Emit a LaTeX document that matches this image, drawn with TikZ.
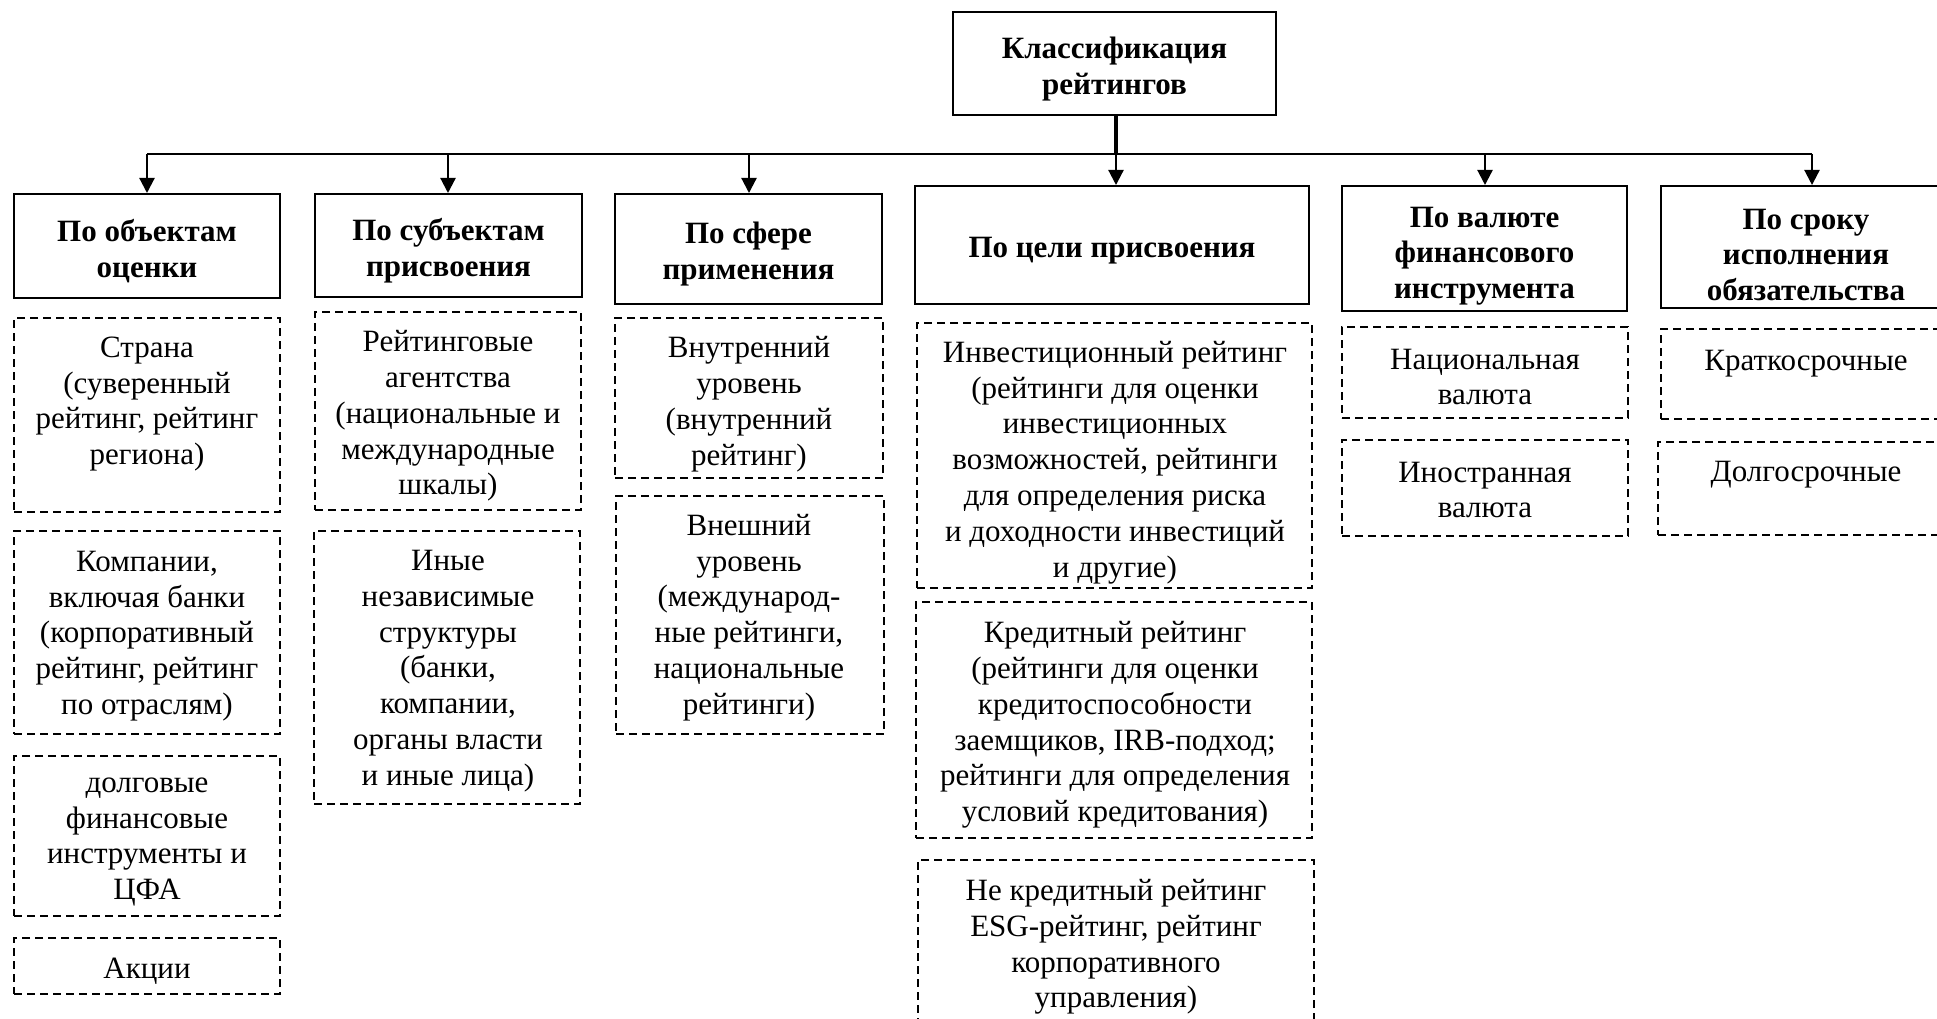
\documentclass[tikz,border=0pt]{standalone}
\usepackage{fontspec}
\setmainfont{Liberation Serif}
\usetikzlibrary{arrows.meta}
\tikzset{
  txt/.style={inner sep=0pt, align=center, yshift=-3pt, font=\fontsize{31}{35.8}\selectfont},
  htxt/.style={inner sep=0pt, align=center, yshift=-4pt, font=\fontsize{31}{35.8}\selectfont\bfseries},
  sbox/.style={draw=black, line width=2pt, inner sep=0pt, rectangle},
  dbox/.style={draw=black, line width=1.8pt, dash pattern=on 8pt off 5pt, inner sep=0pt, rectangle},
  arr/.style={line width=2.2pt, -{Triangle[length=15pt,width=15pt]}},
  bus/.style={line width=2.6pt},
  trunk/.style={line width=4pt}
}
\begin{document}
\begin{tikzpicture}[x=1pt,y=-1pt]
\useasboundingbox (0,0) rectangle (1937,1019);
\clip (0,0) rectangle (1937,1019);
\fill[white] (0,0) rectangle (1937,1019);

% top box
\node[sbox, minimum width=323pt, minimum height=103pt] (top) at (1114.5,63.5) {};
\node[htxt, yshift=-1.5pt] (top-t) at (1114.5,63.5) {Классификация\\рейтингов};

% header boxes
\node[sbox, minimum width=266pt, minimum height=104pt] (h1) at (147,246) {};
\node[htxt] (h1-t) at (147,247) {По объектам\\оценки};
\node[sbox, minimum width=267pt, minimum height=103pt] (h2) at (448.5,245.5) {};
\node[htxt] (h2-t) at (448.5,247) {По субъектам\\присвоения};
\node[sbox, minimum width=267pt, minimum height=110pt] (h3) at (748.5,249) {};
\node[htxt] (h3-t) at (748.5,250) {По сфере\\применения};
\node[sbox, minimum width=394pt, minimum height=118pt] (h4) at (1112,245) {};
\node[htxt] (h4-t) at (1112,247) {По цели присвоения};
\node[sbox, minimum width=285pt, minimum height=125pt] (h5) at (1484.5,248.5) {};
\node[htxt] (h5-t) at (1484.5,252) {По валюте\\финансового\\инструмента};
\node[sbox, minimum width=290pt, minimum height=122pt] (h6) at (1806,247) {};
\node[htxt] (h6-t) at (1806,251) {По сроку\\исполнения\\обязательства};

% bus coordinates
\coordinate (b1) at (147,154);
\coordinate (b2) at (448,154);
\coordinate (b3) at (749,154);
\coordinate (b4) at (1116,154);
\coordinate (b5) at (1485,154);
\coordinate (b6) at (1812,154);

\draw[bus] (b1) -- (b6);
\draw[trunk] (top.south -| b4) -- (b4);
\draw[arr] (b1) -- (b1 |- h1.north);
\draw[arr] (b2) -- (b2 |- h2.north);
\draw[arr] (b3) -- (b3 |- h3.north);
\draw[arr] (b4) -- (b4 |- h4.north);
\draw[arr] (b5) -- (b5 |- h5.north);
\draw[arr] (b6) -- (b6 |- h6.north);

% column 1
\node[dbox, minimum width=266pt, minimum height=194pt] (c1a) at (147,415) {};
\node[txt] (c1a-t) at (147,401) {Страна\\(суверенный\\рейтинг, рейтинг\\региона)};
\node[dbox, minimum width=266pt, minimum height=203pt] (c1b) at (147,632.5) {};
\node[txt] (c1b-t) at (147,633) {Компании,\\включая банки\\(корпоративный\\рейтинг, рейтинг\\по отраслям)};
\node[dbox, minimum width=266pt, minimum height=160pt] (c1c) at (147,836) {};
\node[txt] (c1c-t) at (147,839) {долговые\\финансовые\\инструменты и\\ЦФА};
\node[dbox, minimum width=266pt, minimum height=56pt] (c1d) at (147,966) {};
\node[txt] (c1d-t) at (147,968) {Акции};

% column 2
\node[dbox, minimum width=266pt, minimum height=198pt] (c2a) at (448,411) {};
\node[txt] (c2a-t) at (448,413) {Рейтинговые\\агентства\\(национальные и\\международные\\шкалы)};
\node[dbox, minimum width=266pt, minimum height=273pt] (c2b) at (447,667.5) {};
\node[txt] (c2b-t) at (448,668) {Иные\\независимые\\структуры\\(банки,\\компании,\\органы власти\\и иные лица)};

% column 3
\node[dbox, minimum width=268pt, minimum height=160pt] (c3a) at (749,398) {};
\node[txt] (c3a-t) at (749,401) {Внутренний\\уровень\\(внутренний\\рейтинг)};
\node[dbox, minimum width=268pt, minimum height=238pt] (c3b) at (750,615) {};
\node[txt] (c3b-t) at (749,614.5) {Внешний\\уровень\\(международ-\\ные рейтинги,\\национальные\\рейтинги)};

% column 4
\node[dbox, minimum width=395pt, minimum height=265pt] (c4a) at (1114.5,455.5) {};
\node[txt] (c4a-t) at (1115,459.5) {Инвестиционный рейтинг\\(рейтинги для оценки\\инвестиционных\\возможностей, рейтинги\\для определения риска\\и доходности инвестиций\\и другие)};
\node[dbox, minimum width=396pt, minimum height=236pt] (c4b) at (1114,720) {};
\node[txt] (c4b-t) at (1115,722) {Кредитный рейтинг\\(рейтинги для оценки\\кредитоспособности\\заемщиков, IRB-подход;\\рейтинги для определения\\условий кредитования)};
\node[dbox, minimum width=396pt, minimum height=168pt] (c4c) at (1116,944) {};
\node[txt] (c4c-t) at (1116,944) {Не кредитный рейтинг\\ESG-рейтинг, рейтинг\\корпоративного\\управления)};

% column 5
\node[dbox, minimum width=286pt, minimum height=91pt] (c5a) at (1485,372.5) {};
\node[txt] (c5a-t) at (1485,374) {Национальная\\валюта};
\node[dbox, minimum width=286pt, minimum height=96pt] (c5b) at (1485,488) {};
\node[txt] (c5b-t) at (1485,487) {Иностранная\\валюта};

% column 6
\node[dbox, minimum width=290pt, minimum height=90pt] (c6a) at (1806,374) {};
\node[txt] (c6a-t) at (1806,361) {Краткосрочные};
\node[dbox, minimum width=293pt, minimum height=93pt] (c6b) at (1804.5,488.5) {};
\node[txt] (c6b-t) at (1806,472) {Долгосрочные};
\end{tikzpicture}
\end{document}
